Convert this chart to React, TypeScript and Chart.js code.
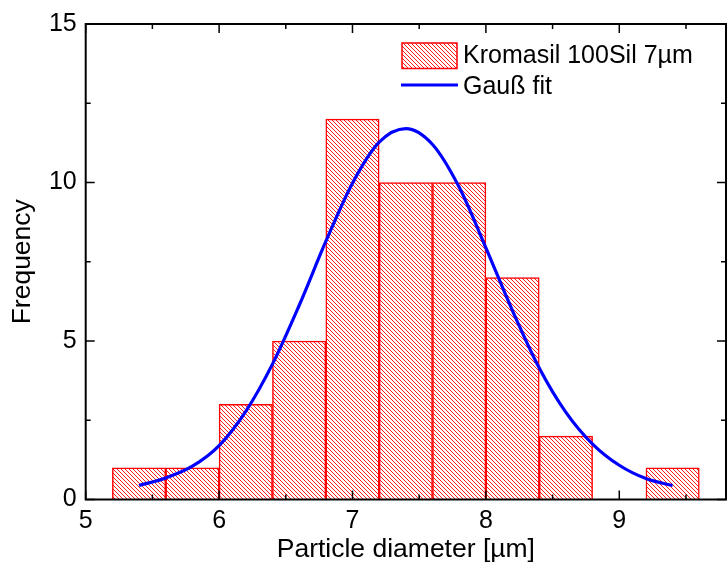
import React, { useEffect, useRef } from "react";
import { Chart, registerables } from "chart.js";

Chart.register(...registerables);

// ---- data ----
const binCenters = [5.4, 5.8, 6.2, 6.6, 7.0, 7.4, 7.8, 8.2, 8.6, 9.4];
const binCounts = [1, 1, 3, 5, 12, 10, 10, 7, 2, 1];

const fitX = [5.4, 5.6, 5.8, 6.0, 6.2, 6.4, 6.6, 6.8, 7.0, 7.2, 7.4, 7.6, 7.8, 8.0, 8.2, 8.4, 8.6, 8.8, 9.0, 9.2, 9.4];
const fitY = [0.44, 0.68, 1.05, 1.7, 2.78, 4.27, 6.12, 8.14, 9.98, 11.27, 11.7, 11.2, 9.85, 7.94, 5.95, 4.15, 2.75, 1.75, 1.08, 0.66, 0.44];

const xMajorTicks = [5, 6, 7, 8, 9];
const xMinorTicks = [5.5, 6.5, 7.5, 8.5, 9.5];
const yMajorTicks = [0, 5, 10, 15];
const yMinorTicks = [2.5, 7.5, 12.5];

const seriesLabels = ["Kromasil 100Sil 7µm", "Gauß fit"];
const xTitle = "Particle diameter [µm]";
const yTitle = "Frequency";

const FONT = '"Liberation Sans", Arial, Helvetica, sans-serif';
const RED = "#ff0000";
const BLUE = "#0000ff";

function makeHatch(): CanvasPattern | string {
  const s = 4;
  const c = document.createElement("canvas");
  c.width = s;
  c.height = s;
  const g = c.getContext("2d");
  if (!g) return "rgba(255,0,0,0.4)";
  g.fillStyle = "#ffffff";
  g.fillRect(0, 0, s, s);
  g.strokeStyle = RED;
  g.lineWidth = 0.9;
  g.beginPath();
  for (let k = -1; k <= 1; k++) {
    g.moveTo(k * s, 0);
    g.lineTo(k * s + s, s);
  }
  g.stroke();
  const p = g.createPattern(c, "repeat");
  return p || "rgba(255,0,0,0.4)";
}

export default function App() {
  const ref = useRef<HTMLCanvasElement | null>(null);

  useEffect(() => {
    const canvas = ref.current;
    if (!canvas) return;
    const hatch = makeHatch();

    const framePlugin = {
      id: "frameTicks",
      afterDatasetsDraw(chart: any) {
        const { ctx, chartArea: a, scales } = chart;
        const xs = scales.x;
        const ys = scales.y;
        ctx.save();
        ctx.strokeStyle = "#000";
        ctx.lineWidth = 1.5;
        const major = 9;
        const minor = 5;
        ctx.beginPath();
        const xt = (v: number, len: number) => {
          const px = xs.getPixelForValue(v);
          ctx.moveTo(px, a.bottom);
          ctx.lineTo(px, a.bottom - len);
          ctx.moveTo(px, a.top);
          ctx.lineTo(px, a.top + len);
        };
        const yt = (v: number, len: number) => {
          const py = ys.getPixelForValue(v);
          ctx.moveTo(a.left, py);
          ctx.lineTo(a.left + len, py);
          ctx.moveTo(a.right, py);
          ctx.lineTo(a.right - len, py);
        };
        xMajorTicks.forEach((v) => xt(v, major));
        xMinorTicks.forEach((v) => xt(v, minor));
        yMajorTicks.forEach((v) => yt(v, major));
        yMinorTicks.forEach((v) => yt(v, minor));
        ctx.stroke();
        ctx.lineWidth = 2;
        ctx.strokeRect(a.left, a.top, a.right - a.left, a.bottom - a.top);
        ctx.restore();
      },
    };

    const legendPlugin = {
      id: "customLegend",
      afterDraw(chart: any) {
        const ctx = chart.ctx;
        ctx.save();
        ctx.fillStyle = hatch as any;
        ctx.fillRect(402, 43, 55, 25.5);
        ctx.strokeStyle = RED;
        ctx.lineWidth = 1.5;
        ctx.strokeRect(402, 43, 55, 25.5);
        ctx.strokeStyle = BLUE;
        ctx.lineWidth = 3.2;
        ctx.beginPath();
        ctx.moveTo(401, 85);
        ctx.lineTo(458, 85);
        ctx.stroke();
        ctx.fillStyle = "#000";
        ctx.font = `25px ${FONT}`;
        ctx.textBaseline = "middle";
        ctx.textAlign = "left";
        ctx.fillText(seriesLabels[0], 463, 56);
        ctx.fillText(seriesLabels[1], 463, 87);
        ctx.restore();
      },
    };

    const chart = new Chart(canvas, {
      type: "bar",
      data: {
        datasets: [
          {
            type: "line",
            label: seriesLabels[1],
            data: fitX.map((x, i) => ({ x, y: fitY[i] })),
            borderColor: BLUE,
            borderWidth: 3.2,
            pointRadius: 0,
            cubicInterpolationMode: "monotone",
            fill: false,
            order: 0,
          } as any,
          {
            type: "bar",
            label: seriesLabels[0],
            data: binCenters.map((x, i) => ({ x, y: binCounts[i] })),
            backgroundColor: hatch as any,
            borderColor: RED,
            borderWidth: 1.5,
            barPercentage: 1,
            categoryPercentage: 1,
            order: 1,
          } as any,
        ],
      },
      options: {
        animation: false,
        responsive: true,
        maintainAspectRatio: false,
        layout: { padding: { top: 20, right: 2, left: 0, bottom: 0 } },
        plugins: {
          legend: { display: false },
          tooltip: { enabled: false },
        },
        scales: {
          x: {
            type: "linear",
            offset: false,
            min: 5,
            max: 9.8,
            afterBuildTicks: (s: any) => {
              s.ticks = xMajorTicks.map((v) => ({ value: v }));
            },
            afterFit: (s: any) => {
              s.height = 70.5;
            },
            ticks: {
              font: { size: 25, family: FONT },
              color: "#000",
              padding: 7,
              maxRotation: 0,
              autoSkip: false,
            },
            grid: { display: false, drawTicks: false, offset: false },
            border: { display: false },
            title: {
              display: true,
              text: xTitle,
              color: "#000",
              font: { size: 26.5, family: FONT },
              padding: { top: 0, bottom: 4 },
            },
          },
          y: {
            type: "linear",
            min: 0,
            max: 15,
            afterBuildTicks: (s: any) => {
              s.ticks = yMajorTicks.map((v) => ({ value: v }));
            },
            afterFit: (s: any) => {
              s.width = 85.7;
            },
            ticks: {
              font: { size: 25, family: FONT },
              color: "#000",
              padding: 9,
            },
            grid: { display: false, drawTicks: false },
            border: { display: false },
            title: {
              display: true,
              text: yTitle,
              color: "#000",
              font: { size: 26.5, family: FONT },
              padding: { top: 7, bottom: 0 },
            },
          },
        },
      } as any,
      plugins: [framePlugin, legendPlugin],
    });

    return () => chart.destroy();
  }, []);

  return (
    <div
      style={{
        position: "absolute",
        left: 0,
        top: 0,
        width: 728,
        height: 570,
        background: "#fff",
      }}
    >
      <canvas ref={ref} />
    </div>
  );
}
